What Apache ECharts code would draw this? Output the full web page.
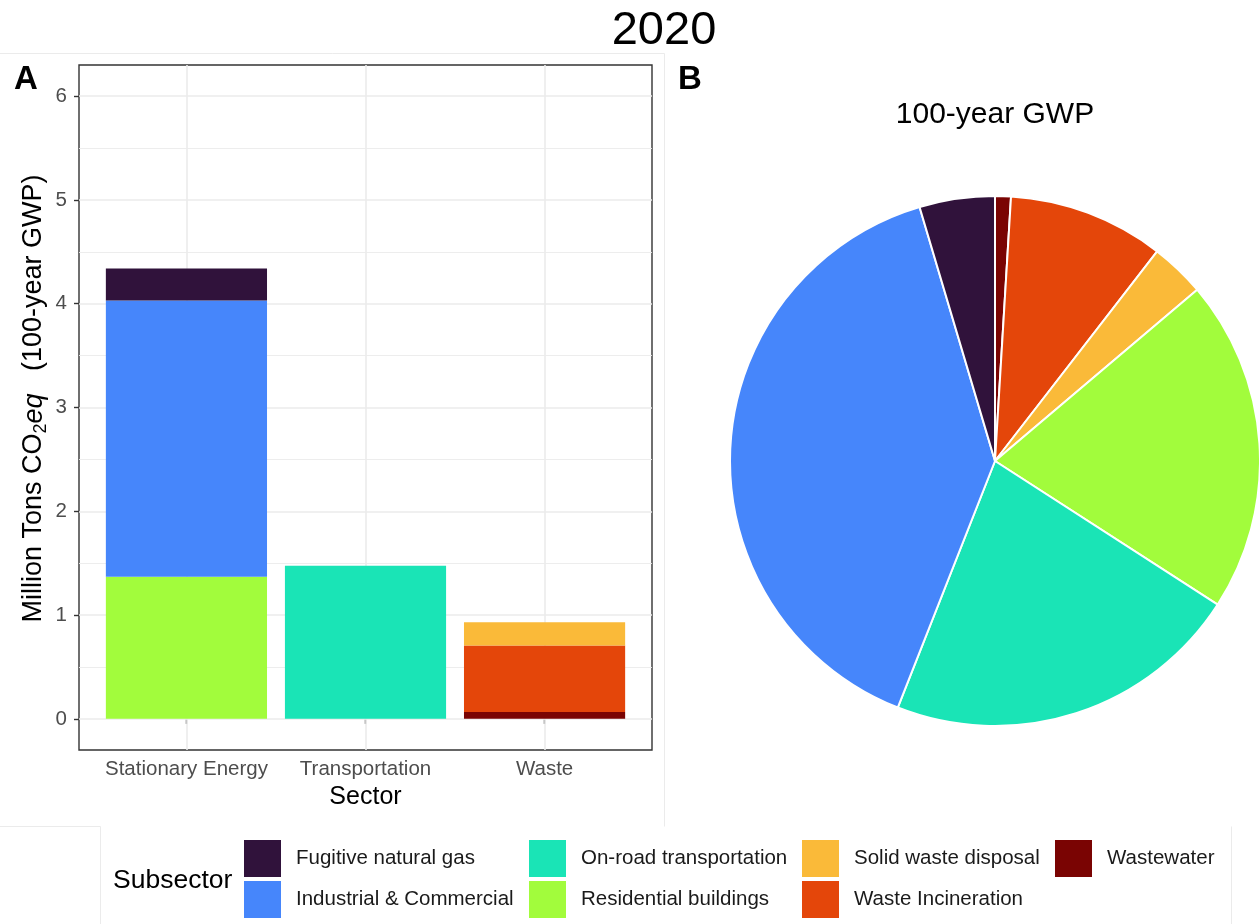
<!DOCTYPE html>
<html>
<head>
<meta charset="utf-8">
<title>2020 emissions by subsector</title>
<script src="https://cdn.jsdelivr.net/npm/echarts@6/dist/echarts.min.js"></script>
<style>
  html, body { margin: 0; padding: 0; background: #fff; }
  #chart { width: 1259px; height: 924px; }
</style>
</head>
<body>
<div id="chart"></div>
<script>
// Sectors shown on the bar chart's x axis
const sectors = ['Stationary Energy', 'Transportation', 'Waste'];

// Subsectors, listed from the bottom of each stack upward (also the pie's clockwise order)
const subsectors = [
  'Wastewater',
  'Waste Incineration',
  'Solid waste disposal',
  'Residential buildings',
  'On-road transportation',
  'Industrial & Commercial',
  'Fugitive natural gas'
];

// Sector each subsector belongs to
const subsectorSector = [
  'Waste',
  'Waste',
  'Waste',
  'Stationary Energy',
  'Transportation',
  'Stationary Energy',
  'Stationary Energy'
];

// Emissions, million tons CO2eq (100-year GWP)
const subsectorValues = [0.065, 0.642, 0.225, 1.37, 1.475, 2.66, 0.31];

// Y-axis tick labels and minor grid positions
const yTicks = [0, 1, 2, 3, 4, 5, 6];
const yMinorGrid = [0.5, 1.5, 2.5, 3.5, 4.5, 5.5];

// Legend columns (read top-to-bottom, left-to-right)
const legendColumns = [
  ['Fugitive natural gas', 'Industrial & Commercial'],
  ['On-road transportation', 'Residential buildings'],
  ['Solid waste disposal', 'Waste Incineration'],
  ['Wastewater']
];

const palette = {
  'Fugitive natural gas': '#30123B',
  'Industrial & Commercial': '#4686FB',
  'On-road transportation': '#1AE4B6',
  'Residential buildings': '#A2FC3C',
  'Solid waste disposal': '#FABA39',
  'Waste Incineration': '#E4460A',
  'Wastewater': '#7A0403'
};

const FONT = '"Liberation Sans", Arial, Helvetica, sans-serif';
const GRID_COLOR = '#ebebeb';

// Panel A frame: discrete positions 1..3 padded by 0.6 on each side
const PANEL = { left: 79, top: 65, width: 573, height: 685 };
const X_MIN = 0.4, X_MAX = 3.6;
const unitPx = PANEL.width / (X_MAX - X_MIN);
// Bars live in an inner band grid whose category centres fall on 1, 2, 3
const BAND = { left: PANEL.left + (0.5 - X_MIN) * unitPx, width: sectors.length * unitPx };

const chart = echarts.init(document.getElementById('chart'), null, { renderer: 'canvas' });

const sectorPos = sectors.map((s, i) => i + 1);

// Panel grid lines, laid down through the frame's axis scales
const gridLines = []
  .concat(yMinorGrid.map(v => ({ yAxis: v, lineStyle: { color: GRID_COLOR, width: 0.9, type: 'solid' } })))
  .concat(yTicks.map(v => ({ yAxis: v, lineStyle: { color: GRID_COLOR, width: 1.6, type: 'solid' } })))
  .concat(sectorPos.map(v => ({ xAxis: v, lineStyle: { color: GRID_COLOR, width: 1.6, type: 'solid' } })));

const gridSeries = {
  name: 'panel-grid',
  type: 'line',
  xAxisIndex: 0,
  yAxisIndex: 0,
  data: [],
  silent: true,
  showSymbol: false,
  markLine: {
    silent: true,
    symbol: 'none',
    z: 1,
    animation: false,
    label: { show: false },
    emphasis: { disabled: true },
    data: gridLines
  }
};

const barSeries = subsectors.map((name, i) => ({
  name: name,
  type: 'bar',
  stack: 'total',
  barWidth: '90%',
  xAxisIndex: 1,
  yAxisIndex: 1,
  z: 3,
  itemStyle: { color: palette[name] },
  emphasis: { disabled: true },
  data: sectors.map(sec => (sec === subsectorSector[i] ? subsectorValues[i] : 0))
}));

const pieSeries = {
  name: 'share',
  type: 'pie',
  center: [995, 461],
  radius: 265,
  startAngle: 90,
  clockwise: true,
  label: { show: false },
  labelLine: { show: false },
  emphasis: { disabled: true },
  itemStyle: { borderColor: '#ffffff', borderWidth: 2 },
  data: subsectors.map((name, i) => ({
    name: name,
    value: subsectorValues[i],
    itemStyle: { color: palette[name] }
  }))
};

const legendLeft = [244, 529, 802, 1055];
const legends = legendColumns.map((col, k) => ({
  orient: 'vertical',
  left: legendLeft[k],
  top: 840,
  padding: 0,
  itemWidth: 37,
  itemHeight: 37,
  itemGap: 4,
  icon: 'rect',
  selectedMode: false,
  data: col,
  textStyle: { fontFamily: FONT, fontSize: 20.5, color: '#1a1a1a', padding: [0, 0, 0, 10] }
}));

const option = {
  backgroundColor: '#ffffff',
  animation: false,
  title: [
    { text: '2020', left: 664, top: 8, padding: 0, textAlign: 'center',
      textStyle: { fontFamily: FONT, fontSize: 47, fontWeight: 'normal', color: '#000' } },
    { text: '100-year GWP', left: 995, top: 100, padding: 0, textAlign: 'center',
      textStyle: { fontFamily: FONT, fontSize: 30, fontWeight: 'normal', color: '#000' } },
    { text: 'A', left: 14, top: 63, padding: 0,
      textStyle: { fontFamily: FONT, fontSize: 33, fontWeight: 'bold', color: '#000' } },
    { text: 'B', left: 678, top: 63, padding: 0,
      textStyle: { fontFamily: FONT, fontSize: 33, fontWeight: 'bold', color: '#000' } },
    { text: 'Subsector', left: 113, top: 867, padding: 0,
      textStyle: { fontFamily: FONT, fontSize: 26.5, fontWeight: 'normal', color: '#000' } }
  ],
  legend: legends,
  grid: [
    {
      left: PANEL.left, top: PANEL.top, width: PANEL.width, height: PANEL.height,
      show: true, borderColor: '#333333', borderWidth: 1.4, backgroundColor: 'transparent',
      containLabel: false
    },
    {
      left: BAND.left, top: PANEL.top, width: BAND.width, height: PANEL.height,
      show: false, containLabel: false
    }
  ],
  xAxis: [
    {
      gridIndex: 0,
      type: 'value',
      min: X_MIN,
      max: X_MAX,
      name: 'Sector',
      nameLocation: 'middle',
      nameGap: 35,
      nameTextStyle: { fontFamily: FONT, fontSize: 25, color: '#000' },
      axisLine: { show: false },
      splitLine: { show: false },
      axisTick: { show: true, length: 5, lineStyle: { color: '#333333', width: 1.4 }, customValues: sectorPos },
      axisLabel: {
        customValues: sectorPos,
        margin: 9,
        fontFamily: FONT, fontSize: 20.5, color: '#4d4d4d',
        formatter: v => sectors[Math.round(v) - 1]
      }
    },
    {
      gridIndex: 1,
      type: 'category',
      data: sectors,
      boundaryGap: true,
      show: false
    }
  ],
  yAxis: [
    {
      gridIndex: 0,
      type: 'value',
      min: -0.3,
      max: 6.3,
      name: 'Million Tons CO{sub|2}{it|eq}   (100-year GWP)',
      nameLocation: 'middle',
      nameGap: 29,
      nameTextStyle: {
        fontFamily: FONT, fontSize: 27, color: '#000', lineHeight: 32,
        padding: [0, 0, 0, 18],
        rich: {
          sub: { fontFamily: FONT, fontSize: 18, color: '#000', lineHeight: 18, verticalAlign: 'bottom' },
          it: { fontFamily: FONT, fontSize: 27, color: '#000', fontStyle: 'italic', lineHeight: 32 }
        }
      },
      axisLine: { show: false },
      splitLine: { show: false },
      axisTick: { show: true, length: 5, lineStyle: { color: '#333333', width: 1.4 }, customValues: yTicks },
      axisLabel: {
        customValues: yTicks,
        margin: 12,
        fontFamily: FONT, fontSize: 20.5, color: '#4d4d4d'
      }
    },
    {
      gridIndex: 1,
      type: 'value',
      min: -0.3,
      max: 6.3,
      show: false,
      splitLine: { show: false }
    }
  ],
  graphic: [
    // faint outline of the left panel and the legend strip
    { type: 'polyline', silent: true, z: -1,
      shape: { points: [[0, 53.5], [664.5, 53.5], [664.5, 826.5]] },
      style: { stroke: '#ebebeb', lineWidth: 1, fill: null } },
    { type: 'line', silent: true, z: -1,
      shape: { x1: 0, y1: 826.5, x2: 100.5, y2: 826.5 },
      style: { stroke: '#ebebeb', lineWidth: 1 } },
    { type: 'line', silent: true, z: -1,
      shape: { x1: 100.5, y1: 826.5, x2: 100.5, y2: 924 },
      style: { stroke: '#ebebeb', lineWidth: 1 } },
    { type: 'line', silent: true, z: -1,
      shape: { x1: 1231.5, y1: 826.5, x2: 1231.5, y2: 924 },
      style: { stroke: '#ebebeb', lineWidth: 1 } }
  ],
  series: [gridSeries].concat(barSeries, [pieSeries])
};

chart.setOption(option);
</script>
</body>
</html>
